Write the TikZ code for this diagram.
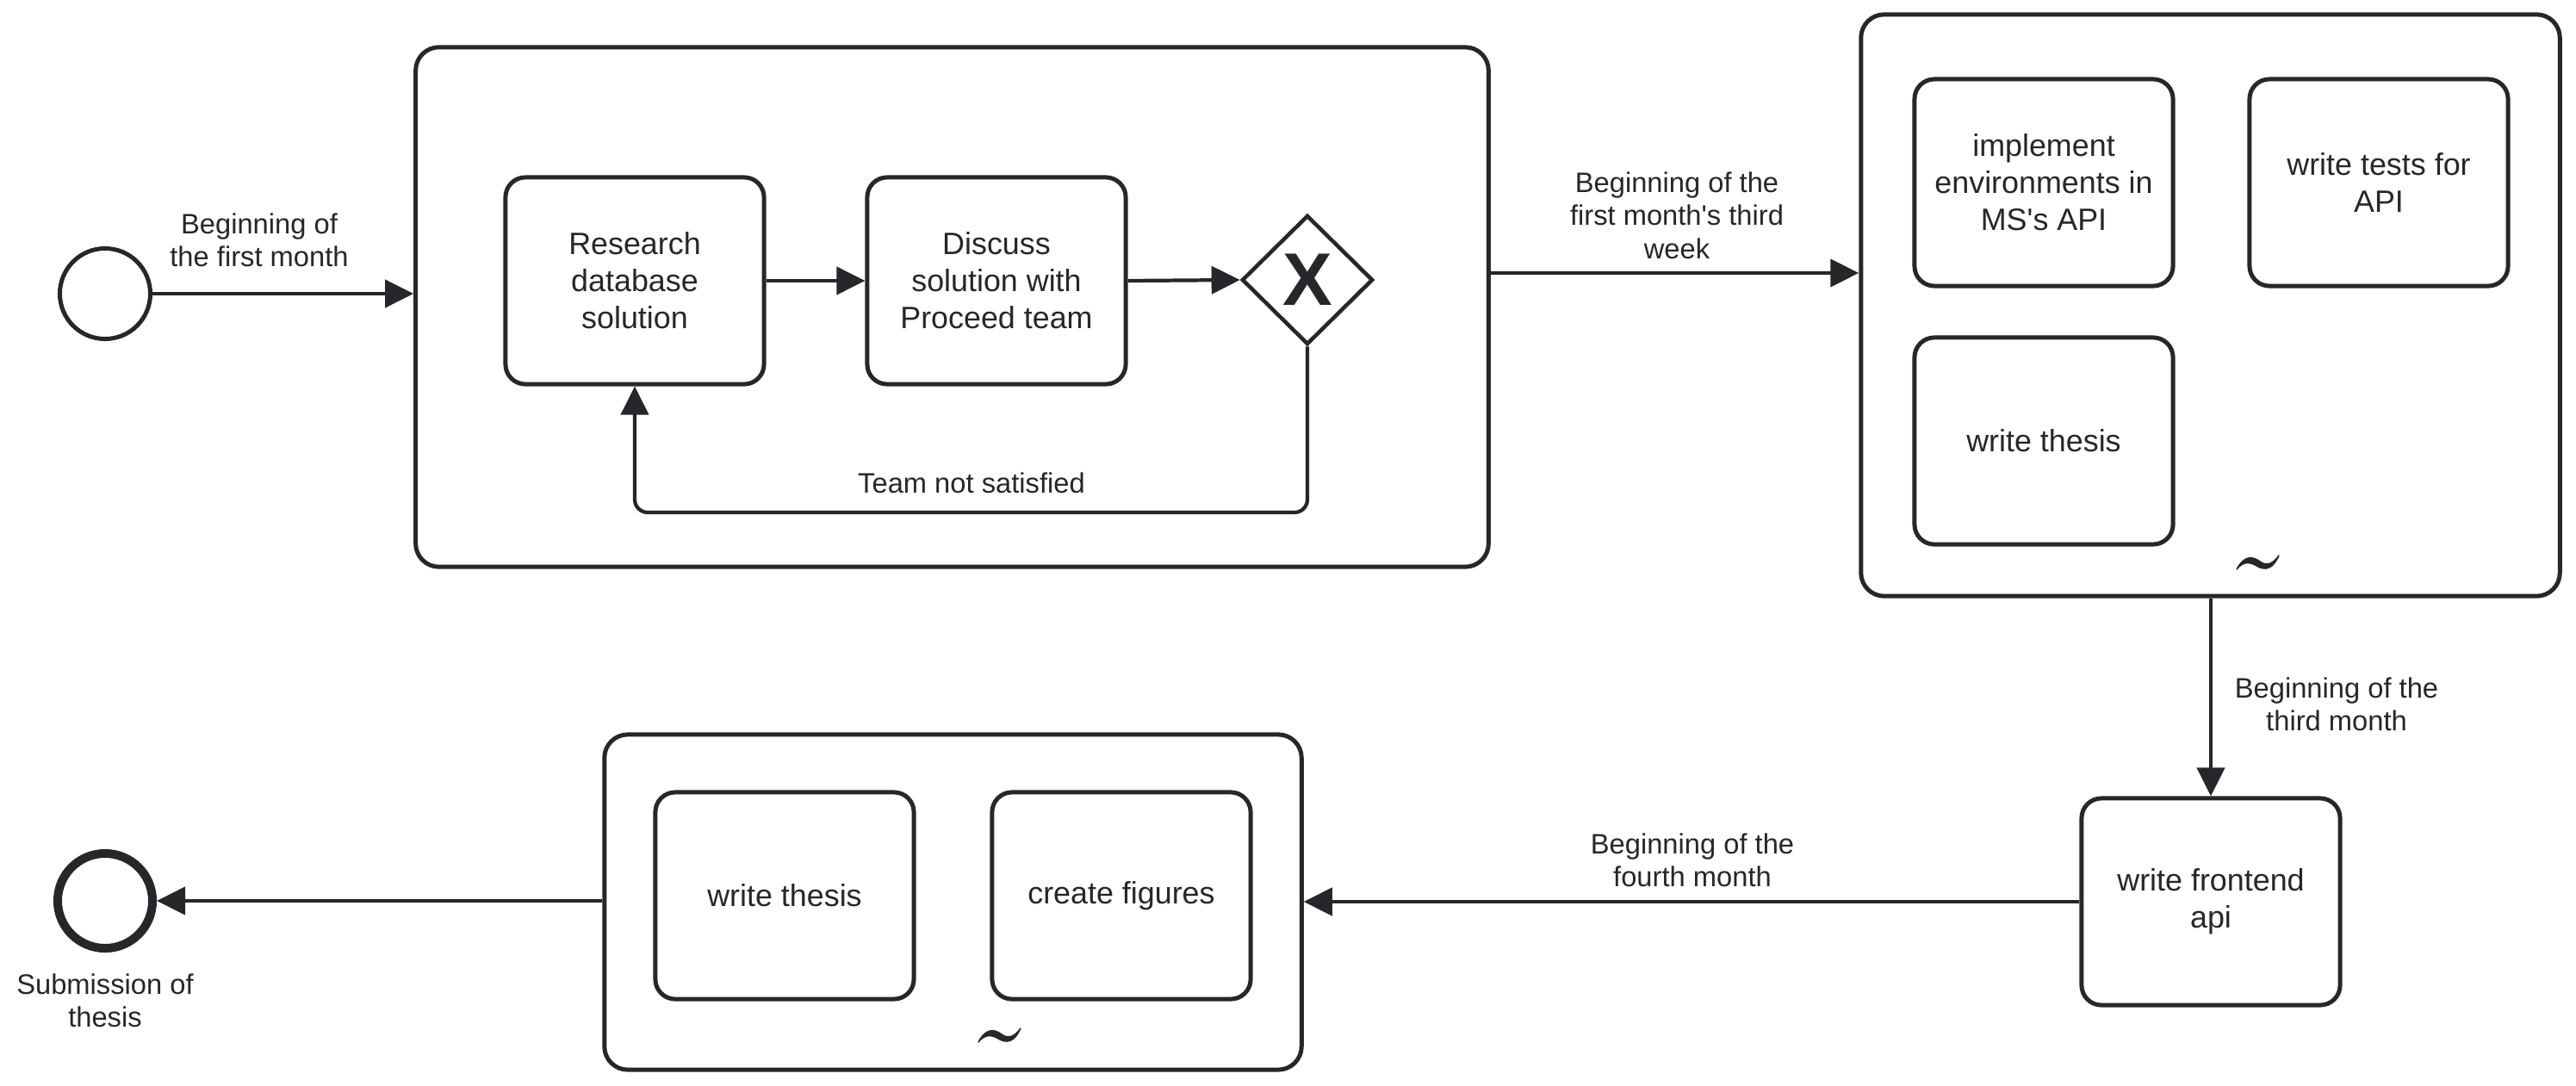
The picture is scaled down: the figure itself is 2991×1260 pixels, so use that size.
\documentclass[tikz,border=0pt]{standalone}
\usepackage{fontspec}
\setmainfont{Liberation Sans}
\usetikzlibrary{arrows.meta,shapes.geometric}
\definecolor{ink}{RGB}{38,39,43}
\begin{document}
\begin{tikzpicture}[x=0.01cm,y=-0.01cm,
  every node/.style={text=ink},
  subproc/.style={draw=ink, line width=1.42pt, rounded corners=0.27cm, inner sep=0},
  task/.style={draw=ink, line width=1.42pt, rounded corners=0.23cm, minimum width=3cm, minimum height=2.4cm, align=center, font=\fontsize{10.2}{12.2}\selectfont, inner sep=0},
  lbl/.style={align=center, font=\fontsize{9.3}{10.95}\selectfont, inner sep=0},
  flow/.style={draw=ink, line width=1.2pt, -{Triangle[length=0.33cm,width=0.32cm]}},
  tildemark/.style={fill=ink, draw=ink, line width=0.4pt, line join=round}]
\useasboundingbox (0,0) rectangle (2991,1260);

% events
\node[circle, draw=ink, line width=1.42pt, minimum size=1.05cm, inner sep=0, outer sep=0.71pt] (start) at (122,341) {};
\node[circle, draw=ink, line width=2.85pt, minimum size=1.1cm, inner sep=0, outer sep=1.42pt] (end) at (122,1046) {};

% subprocesses
\node[subproc, minimum width=12.45cm, minimum height=6.03cm] (sp1) at (1105.5,356.5) {};
\node[subproc, minimum width=8.11cm, minimum height=6.75cm] (sp2) at (2566.5,354.5) {};
\node[subproc, minimum width=8.09cm, minimum height=3.89cm] (sp3) at (1106.5,1047.5) {};

% tasks
\node[task] (research) at (737,326) {Research\\database\\solution};
\node[task] (discuss) at (1157,326) {Discuss\\solution with\\Proceed team};
\node[task] (impl) at (2373,212) {implement\\environments in\\MS\textquotesingle s API};
\node[task] (tests) at (2762,212) {write tests for\\API};
\node[task] (thesisA) at (2373,512) {write thesis};
\node[task] (frontend) at (2567,1047) {write frontend\\api};
\node[task] (thesisB) at (911,1040) {write thesis};
\node[task] (figures) at (1302,1040) {create figures};

% gateway
\node[diamond, draw=ink, line width=1.3pt, minimum width=1.52cm, minimum height=1.5cm, inner sep=0] (gw) at (1518,325) {\fontsize{24.6}{24.6}\selectfont\bfseries X};

% loop markers (tapered tildes)
\foreach \cx/\cy in {2622/654, 1161/1203} {
  \path[tildemark, shift={(\cx,\cy)}]
    (-25,7) .. controls (-16,-10) and (-6,-8) .. (2,-2)
    .. controls (9,3) and (16,2) .. (24,-9)
    .. controls (17,7) and (8,9) .. (-2,3)
    .. controls (-10,-2) and (-18,-2) .. (-25,7) -- cycle;
}

% helper coordinates
\coordinate (y317) at (0,317);
\coordinate (loopy) at (0,595);

% connectors
\draw[flow] (start) -- (start -| sp1.west);
\draw[flow] (research.east) -- (discuss.west);
\draw[flow] (discuss.east) -- (gw.west);
\draw[flow, rounded corners=0.15cm] (gw.south) -- (gw.south |- loopy) -| (research.south);
\draw[flow] (sp1.east |- y317) -- (sp2.west |- y317);
\draw[flow] (sp2.south -| frontend.north) -- (frontend.north);
\draw[flow] (frontend.west) -- (frontend.west -| sp3.east);
\draw[flow] (sp3.west |- end) -- (end);

% labels
\node[lbl] (l1) at (301,279) {Beginning of\\the first month};
\node[lbl] (l2) at (1947,250) {Beginning of the\\first month\textquotesingle s third\\week};
\node[lbl] (l3) at (2713,818) {Beginning of the\\third month};
\node[lbl] (l4) at (1965,999) {Beginning of the\\fourth month};
\node[lbl] (l5) at (122,1162) {Submission of\\thesis};
\node[lbl] (l6) at (1128,561) {Team not satisfied};
\end{tikzpicture}
\end{document}
